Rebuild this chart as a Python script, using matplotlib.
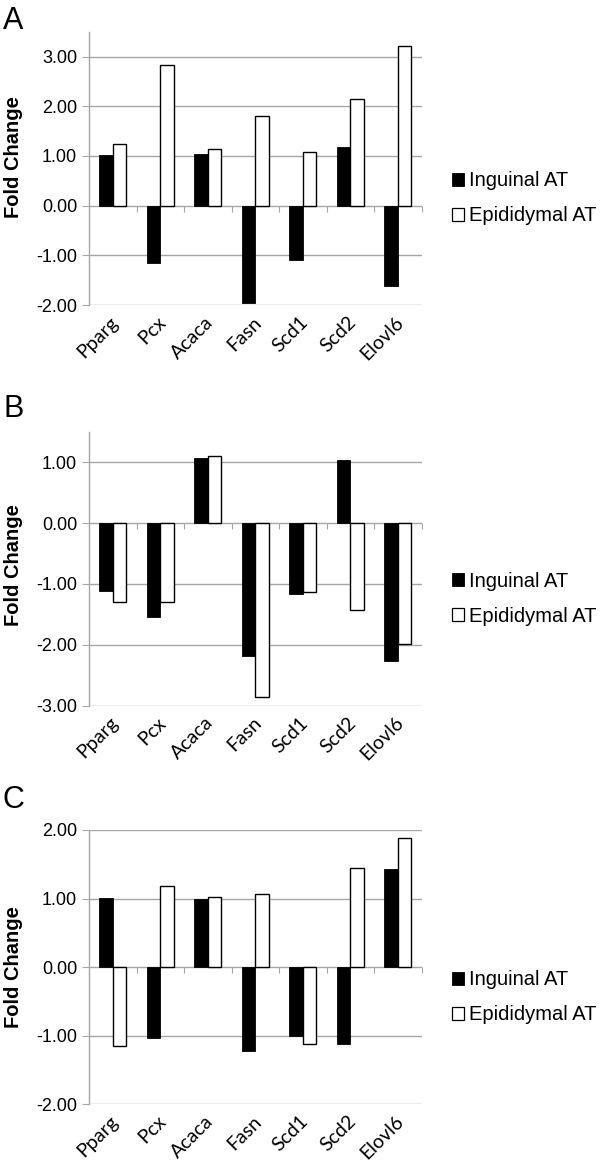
import matplotlib
matplotlib.use('Agg')
import matplotlib.pyplot as plt
import matplotlib.transforms as mtransforms
from matplotlib.patches import Patch
import numpy as np

genes = ['Pparg', 'Pcx', 'Acaca', 'Fasn', 'Scd1', 'Scd2', 'Elovl6']
series_names = ['Inguinal AT', 'Epididymal AT']
panel_letters = ['A', 'B', 'C']

inguinal_A = [1.02, -1.15, 1.03, -1.95, -1.10, 1.18, -1.62]
epididymal_A = [1.24, 2.82, 1.14, 1.81, 1.08, 2.15, 3.22]
inguinal_B = [-1.12, -1.55, 1.07, -2.19, -1.16, 1.03, -2.26]
epididymal_B = [-1.29, -1.29, 1.10, -2.86, -1.14, -1.43, -1.99]
inguinal_C = [1.01, -1.03, 1.00, -1.22, -1.00, -1.12, 1.43]
epididymal_C = [-1.15, 1.18, 1.03, 1.07, -1.12, 1.44, 1.89]

y_limits = [(-2.0, 3.5), (-3.0, 1.5), (-2.0, 2.0)]
ylabel_text = 'Fold Change'

plt.rcParams['font.family'] = ['Liberation Sans', 'DejaVu Sans']

W, H = 600, 1166
fig = plt.figure(figsize=(W / 100, H / 100), dpi=100)

GRAY = '#a6a6a6'
# axes placement in pixels: (top, bottom)
panel_px = [(31.7, 305.0), (431.7, 705.7), (830.0, 1104.3)]
letter_base = [29, 417, 808]
ylabel_frac = [0.54, 0.513, 0.5]
left_px, right_px = 89.0, 421.5

data = [(inguinal_A, epididymal_A), (inguinal_B, epididymal_B), (inguinal_C, epididymal_C)]
x = np.arange(len(genes))
bw = 0.285

for i, ((ing, epi), (lo, hi)) in enumerate(zip(data, y_limits)):
    top, bot = panel_px[i]
    ax = fig.add_axes([left_px / W, 1 - bot / H, (right_px - left_px) / W, (bot - top) / H])
    ax.bar(x - bw / 2, ing, bw, color='black', edgecolor='black', linewidth=0.6, zorder=3)
    ax.bar(x + bw / 2, epi, bw, color='white', edgecolor='black', linewidth=1.0, zorder=3)
    ax.set_xlim(-0.5, len(genes) - 0.5)
    ax.set_ylim(lo, hi)
    ticks = np.arange(np.ceil(lo), np.floor(hi) + 1)
    ax.set_yticks(ticks)
    ax.set_yticklabels(['%.2f' % t for t in ticks])
    ax.yaxis.grid(True, color=GRAY, linewidth=1.0)
    ax.set_axisbelow(True)
    for s in ['top', 'right', 'bottom']:
        ax.spines[s].set_visible(False)
    ax.spines['left'].set_color(GRAY)
    ax.spines['left'].set_linewidth(1.0)
    ax.tick_params(axis='y', length=5, width=0.8, color=GRAY, pad=3.5, labelsize=13)

    ax.set_xticks(x)
    ax.set_xticklabels(genes, rotation=45, ha='right', va='top', rotation_mode='anchor',
                       fontfamily='Lato', fontsize=14)
    ax.tick_params(axis='x', length=0, pad=6)
    off = mtransforms.ScaledTranslation(-3 / 100, 0, fig.dpi_scale_trans)
    for lab in ax.get_xticklabels():
        lab.set_transform(lab.get_transform() + off)

    ax.set_ylabel(ylabel_text, fontsize=14.5, fontweight='bold', va='center')
    ax.yaxis.set_label_coords((14 - left_px) / (right_px - left_px), ylabel_frac[i])

    zero_frac = (0 - lo) / (hi - lo)
    sec = ax.secondary_xaxis(zero_frac)
    sec.set_alignment('bottom')
    sec.set_xticks(np.arange(0.5, len(genes), 1.0))
    sec.tick_params(axis='x', direction='out', length=4, width=0.8, color=GRAY, labelbottom=False, labeltop=False)
    for s in sec.spines.values():
        s.set_visible(False)

    handles = [Patch(facecolor='black', edgecolor='black', linewidth=0.6),
               Patch(facecolor='white', edgecolor='black', linewidth=0.9)]
    ax.legend(handles=handles, labels=series_names, loc='center left', bbox_to_anchor=(1.092, 0.39),
              frameon=False, handlelength=0.6, handleheight=0.6, handletextpad=0.25,
              labelspacing=0.8, borderpad=0, borderaxespad=0, fontsize=14.5)

    fig.text(3 / W, 1 - letter_base[i] / H, panel_letters[i], fontsize=22, ha='left', va='baseline')

fig.savefig('out.png', dpi=100)
